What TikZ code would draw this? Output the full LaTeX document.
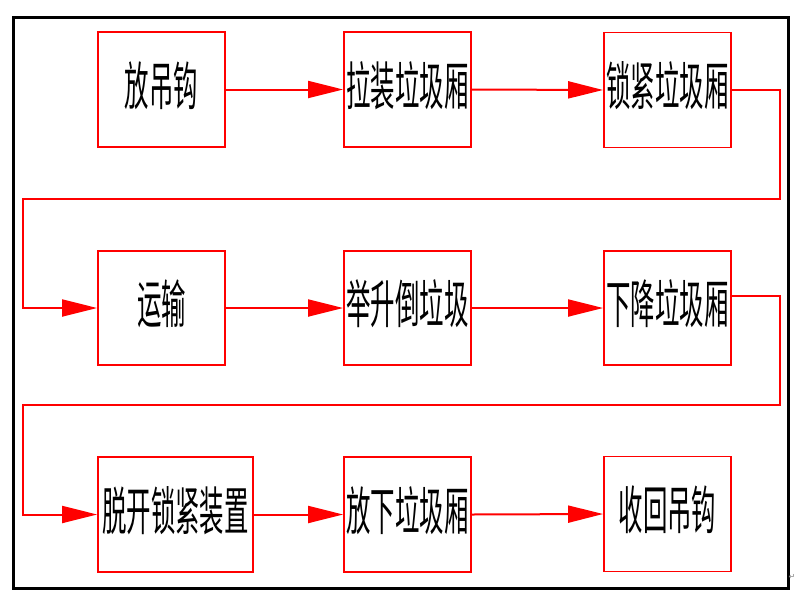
\documentclass[tikz,border=0pt]{standalone}
\usepackage{fontspec}
\newfontfamily\cjk{Noto Sans CJK SC}
\newfontfamily\dejavu{DejaVu Sans}
\usetikzlibrary{arrows.meta}
\newcommand{\boxtext}[1]{\scalebox{0.47}[1]{\fontsize{52}{52}\selectfont\cjk #1}}
\tikzset{
  stepbox/.style={draw=red, line width=1.8pt, inner sep=0pt, minimum height=115pt, text=black},
  flow/.style={draw=red, line width=2pt, -{Triangle[length=35pt,width=17pt]}},
}
\begin{document}
\begin{tikzpicture}[x=1pt,y=-1pt]
\useasboundingbox (0,0) rectangle (800,600);
\draw[line width=3pt] (13,17) rectangle (788,588);
% row 1
\node[stepbox, minimum width=127pt] (a1) at (161.5,89.5) {};
\node[stepbox, minimum width=127pt] (a2) at (407.5,89.5) {};
\node[stepbox, minimum width=127pt] (a3) at (667.5,90) {};
% row 2
\node[stepbox, minimum width=127pt, minimum height=114pt] (b1) at (161.5,308) {};
\node[stepbox, minimum width=127pt, minimum height=114pt] (b2) at (407.5,308) {};
\node[stepbox, minimum width=127pt, minimum height=114pt] (b3) at (667.5,308) {};
% row 3
\node[stepbox, minimum width=155pt] (c1) at (175.5,514.5) {};
\node[stepbox, minimum width=127pt] (c2) at (407.5,514.5) {};
\node[stepbox, minimum width=127pt] (c3) at (667.5,514) {};
% texts
\node (ta1) at ([yshift=4pt]a1.center) {\boxtext{放吊钩}};
\node (ta2) at ([yshift=4pt]a2.center) {\boxtext{拉装垃圾厢}};
\node (ta3) at ([yshift=4pt]a3.center) {\boxtext{锁紧垃圾厢}};
\node (tb1) at ([yshift=4pt]b1.center) {\boxtext{运输}};
\node (tb2) at ([yshift=4pt]b2.center) {\boxtext{举升倒垃圾}};
\node (tb3) at ([yshift=4pt]b3.center) {\boxtext{下降垃圾厢}};
\node (tc1) at ([yshift=4pt]c1.center) {\boxtext{脱开锁紧装置}};
\node (tc2) at ([yshift=4pt]c2.center) {\boxtext{放下垃圾厢}};
\node (tc3) at ([yshift=4pt]c3.center) {\boxtext{收回吊钩}};
% fold coordinates
\coordinate (r1) at (780,199);
\coordinate (l1) at (23,199);
\coordinate (r2) at (780,405);
\coordinate (l2) at (23,405);
% connectors
\draw[flow] (a1.east) -- (a2.west);
\draw[flow] (a2.east) -- (a3.west);
\draw[flow] (a3.east) -| (r1) -- (l1) |- (b1.west);
\draw[flow] (b1.east) -- (b2.west);
\draw[flow] (b2.east) -- (b3.west);
\draw[flow] ([yshift=12pt]b3.east) -| (r2) -- (l2) |- (c1.west);
\draw[flow] (c1.east) -- (c2.west);
\draw[flow] (c2.east) -- (c3.west);
\node[text=gray, inner sep=0pt] (ret) at (792,577) {\dejavu\fontsize{8}{8}\selectfont ↵};
\end{tikzpicture}
\end{document}
